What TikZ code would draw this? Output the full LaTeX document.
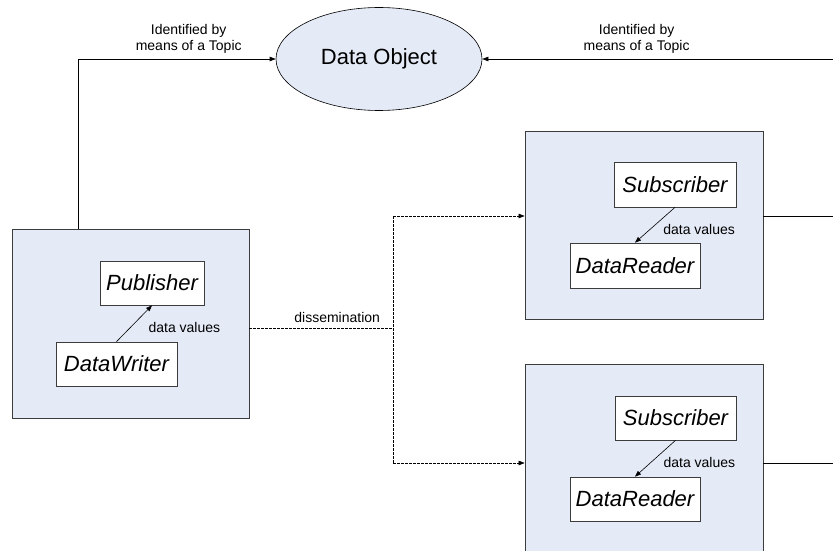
\documentclass[tikz,border=0pt]{standalone}
\usepackage{fontspec}
\setmainfont{Liberation Sans}
\usepackage{tikz}
\usetikzlibrary{shapes,arrows.meta,positioning}
\definecolor{entityfill}{RGB}{228,234,246}
\definecolor{edgegray}{RGB}{60,60,60}

\begin{document}
\begin{tikzpicture}[
    x=1pt, y=-1pt,
    entity/.style={draw=edgegray, fill=entityfill, line width=0.7pt},
    role/.style={draw=edgegray, fill=white, line width=0.7pt, inner sep=0pt, font=\fontsize{22}{24}\selectfont\itshape},
    topic/.style={ellipse, draw=black, fill=entityfill, line width=0.6pt, minimum width=206pt, minimum height=103pt, font=\fontsize{22}{24}\selectfont},
    caption/.style={font=\fontsize{14}{16}\selectfont, align=center, inner sep=2pt},
    flow/.style={-{Triangle[length=6pt,width=4.5pt]}, line width=0.6pt},
    spread/.style={flow, dashed, dash pattern=on 2.5pt off 1.5pt}
]
\clip (0,0) rectangle (833,551);

% Data object
\node[topic] (obj) at (379,59) {Data Object};

% Publishing side
\node[entity, minimum width=237pt, minimum height=189pt] (pubbox) at (130.5,323.5) {};
\node[role, minimum width=104pt, minimum height=44pt] (pub) at (152,283) {Publisher};
\node[role, minimum width=121pt, minimum height=44pt] (writer) at (116.5,364) {DataWriter};

% Subscribing side
\node[entity, minimum width=238pt, minimum height=188pt] (subboxa) at (644,225) {};
\node[role, minimum width=122pt, minimum height=45pt] (suba) at (675,184.5) {Subscriber};
\node[role, minimum width=130pt, minimum height=45pt] (readera) at (635,265.5) {DataReader};

\node[entity, minimum width=238pt, minimum height=194pt] (subboxb) at (644,461) {};
\node[role, minimum width=121pt, minimum height=44pt] (subb) at (675.5,418) {Subscriber};
\node[role, minimum width=130pt, minimum height=44pt] (readerb) at (635,499) {DataReader};

% Free ends and forks
\coordinate (wup) at (78,229);
\coordinate (topicin) at (833,59);
\coordinate (split) at (393,328);
\coordinate (forka) at (393,216);
\coordinate (forkb) at (393,463);
\coordinate (outa) at (833,216);
\coordinate (outb) at (833,463);

% Topic connections
\draw[flow] (wup) |- (obj.west)
    node[caption, pos=0.78, above=3pt] {Identified by\\means of a Topic};
\draw[flow] (topicin) -- (obj.east)
    node[caption, pos=0.56, above=3pt] {Identified by\\means of a Topic};

% Data values inside the boxes
\draw[flow] (writer.north) -- (pub.south)
    node[caption, midway, right=12pt, yshift=-3.5pt] {data values};
\draw[flow] (suba.south) -- (readera.north)
    node[caption, midway, right=6pt, yshift=-4pt] {data values};
\draw[flow] (subb.south) -- (readerb.north)
    node[caption, midway, right=6pt, yshift=-4pt] {data values};

% Dissemination
\draw[dashed, dash pattern=on 2.5pt off 1.5pt, line width=0.6pt] (split -| pubbox.east) -- (split)
    node[caption, midway, above=3pt, xshift=16pt] {dissemination};
\draw[dashed, dash pattern=on 2.5pt off 1.5pt, line width=0.6pt] (forka) -- (forkb);
\draw[spread] (forka) -- (forka -| subboxa.west);
\draw[spread] (forkb) -- (forkb -| subboxb.west);

% Onward lines
\draw[line width=0.6pt] (forka -| subboxa.east) -- (outa);
\draw[line width=0.6pt] (forkb -| subboxb.east) -- (outb);

\end{tikzpicture}
\end{document}
